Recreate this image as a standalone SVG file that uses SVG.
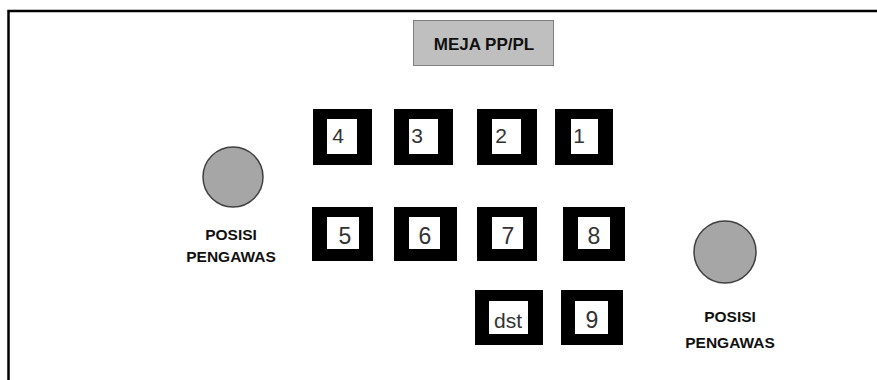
<svg xmlns="http://www.w3.org/2000/svg" width="877" height="380" viewBox="0 0 877 380">
<style>
.lbl{font-family:"Liberation Sans",Arial,sans-serif;font-weight:bold;fill:#111;text-anchor:middle}
.num{font-family:"Liberation Sans",Arial,sans-serif;fill:#333;text-anchor:middle}
.seat{fill:#000}
.hole{fill:#fff}
.circ{fill:#a6a6a6;stroke:#404040;stroke-width:1.5}
</style>
<rect x="0" y="0" width="877" height="380" fill="#fff"/>
<rect x="8.5" y="11" width="900" height="400" fill="none" stroke="#000" stroke-width="2.5"/>
<g id="meja">
<rect x="413.5" y="20.5" width="140" height="45" fill="#bfbfbf" stroke="#7f7f7f" stroke-width="1"/>
<text class="lbl" x="484" y="50" font-size="17">MEJA PP/PL</text>
</g>
<g id="seat4"><rect class="seat" x="313" y="109" width="59" height="56"/><rect class="hole" x="327" y="119" width="30" height="35"/><text class="num" x="338" y="143" font-size="21">4</text></g>
<g id="seat3"><rect class="seat" x="394" y="109" width="59" height="56"/><rect class="hole" x="409" y="119" width="29" height="35"/><text class="num" x="417" y="143" font-size="21">3</text></g>
<g id="seat2"><rect class="seat" x="477" y="109" width="60" height="56"/><rect class="hole" x="492" y="119" width="29" height="35"/><text class="num" x="501" y="143" font-size="21">2</text></g>
<g id="seat1"><rect class="seat" x="555" y="109" width="58" height="56"/><rect class="hole" x="571" y="119" width="27" height="35"/><text class="num" x="579" y="143" font-size="21">1</text></g>
<g id="seat5"><rect class="seat" x="312" y="207" width="61" height="54"/><rect class="hole" x="327" y="217" width="32" height="32"/><text class="num" x="345" y="244" font-size="23">5</text></g>
<g id="seat6"><rect class="seat" x="394" y="207" width="63" height="54"/><rect class="hole" x="409" y="217" width="31" height="32"/><text class="num" x="425" y="244" font-size="23">6</text></g>
<g id="seat7"><rect class="seat" x="477" y="207" width="60" height="54"/><rect class="hole" x="492" y="217" width="31" height="32"/><text class="num" x="508" y="244" font-size="23">7</text></g>
<g id="seat8"><rect class="seat" x="563" y="207" width="62" height="54"/><rect class="hole" x="578" y="217" width="32" height="32"/><text class="num" x="594" y="244" font-size="23">8</text></g>
<g id="seatdst"><rect class="seat" x="475" y="290" width="68" height="55"/><rect class="hole" x="489" y="301" width="39" height="33"/><text class="num" x="508" y="328" font-size="21">dst</text></g>
<g id="seat9"><rect class="seat" x="561" y="290" width="62" height="55"/><rect class="hole" x="575" y="301" width="33" height="33"/><text class="num" x="592" y="328" font-size="23">9</text></g>
<g id="pengawas1">
<circle class="circ" cx="233" cy="177" r="30"/>
<text class="lbl" x="231" y="240" font-size="15.5">POSISI</text>
<text class="lbl" x="231" y="262" font-size="15.5">PENGAWAS</text>
</g>
<g id="pengawas2">
<circle class="circ" cx="725" cy="252" r="31"/>
<text class="lbl" x="730" y="322" font-size="15.5">POSISI</text>
<text class="lbl" x="730" y="348" font-size="15.5">PENGAWAS</text>
</g>
<g id="connectors"/>
</svg>
